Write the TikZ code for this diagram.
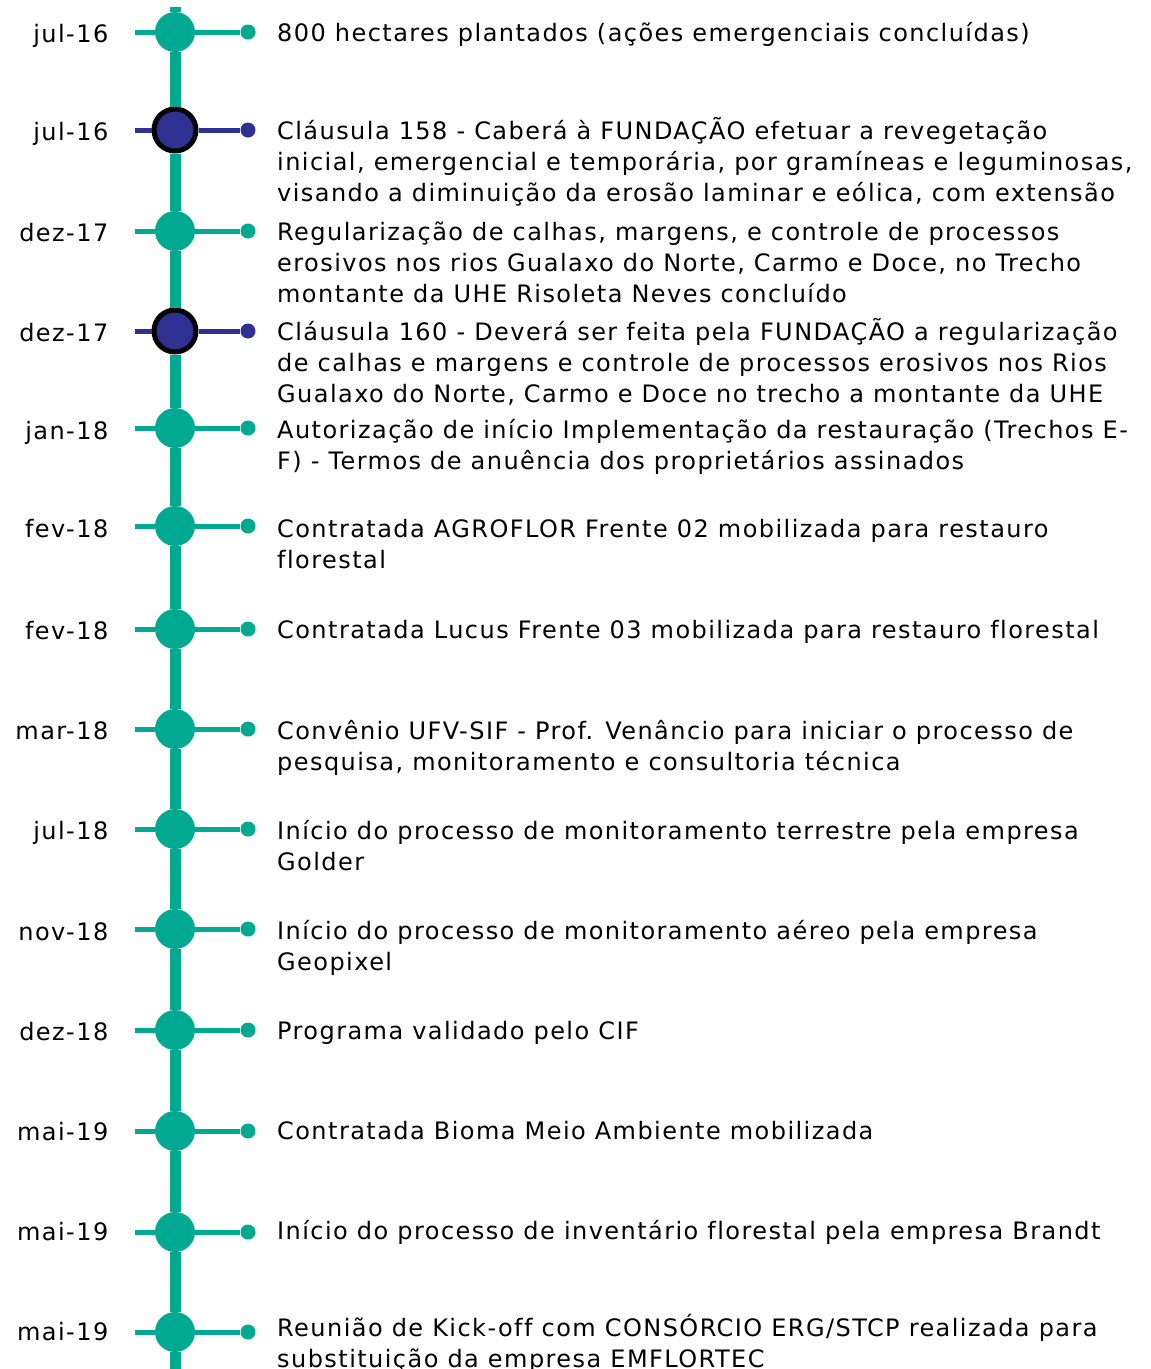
\documentclass[tikz,border=0pt]{standalone}
\usepackage{fontspec}
\setmainfont[LetterSpace=6, Ligatures=NoCommon]{DejaVu Sans}
\usepackage{tikz}
\usetikzlibrary{positioning, calc}
\definecolor{eventteal}{HTML}{00A98F}
\definecolor{clauseblue}{HTML}{2E3192}
\tikzset{
  % Markers on the time line
  milestone/.style={
    circle, inner sep=0pt, minimum size=40pt, fill=eventteal,
  },
  clause/.style={
    circle, inner sep=0pt, minimum size=42pt, fill=clauseblue,
    draw=black, line width=5pt,
  },
  enddot/.style={
    circle, inner sep=0pt, minimum size=15pt, fill=#1,
  },
  enddot/.default={eventteal},
  % Lines
  spine/.style={line width=11pt, draw=eventteal},
  tick/.style={line width=5pt, draw=#1},
  tick/.default={eventteal},
  % Texts (multi-line texts sit on the baseline of their last line)
  datelabel/.style={anchor=base east, inner sep=0pt, font=\fontsize{24}{31}\selectfont},
  desc/.style={anchor=base west, inner sep=0pt, align=left, font=\fontsize{24}{31}\selectfont},
}
\begin{document}
\begin{tikzpicture}[x=1pt, y=-1pt]

  \useasboundingbox[fill=white] (0,0) rectangle (1151,1369);

  % Ends of the time line
  \coordinate (top) at (175,7);
  \coordinate (bottom) at (175,1380);

  % jul-16
  \node[milestone] (e1) at (175,32) {};
  \coordinate (s1) at (135,32);
  \node[enddot] (d1) at (248,32) {};
  \node[datelabel] at (108.5,42) {jul-16};
  \node[desc] at (277,41) {800 hectares plantados (ações emergenciais concluídas)};

  % jul-16 (clausula)
  \node[clause] (e2) at (175,130) {};
  \coordinate (s2) at (135,130);
  \node[enddot=clauseblue] (d2) at (248,130) {};
  \node[datelabel] at (108.5,140) {jul-16};
  \node[desc] at (277,201) {Cláusula 158 - Caberá à FUNDAÇÃO efetuar a revegetação\\
    inicial, emergencial e temporária, por gramíneas e leguminosas,\\
    visando a diminuição da erosão laminar e eólica, com extensão};

  % dez-17
  \node[milestone] (e3) at (175,231) {};
  \coordinate (s3) at (135,231);
  \node[enddot] (d3) at (248,231) {};
  \node[datelabel] at (108.5,241) {dez-17};
  \node[desc] at (277,302) {Regularização de calhas, margens, e controle de processos\\
    erosivos nos rios Gualaxo do Norte, Carmo e Doce, no Trecho\\
    montante da UHE Risoleta Neves concluído};

  % dez-17 (clausula)
  \node[clause] (e4) at (175,331) {};
  \coordinate (s4) at (135,331);
  \node[enddot=clauseblue] (d4) at (248,331) {};
  \node[datelabel] at (108.5,341) {dez-17};
  \node[desc] at (277,402) {Cláusula 160 - Deverá ser feita pela FUNDAÇÃO a regularização\\
    de calhas e margens e controle de processos erosivos nos Rios\\
    Gualaxo do Norte, Carmo e Doce no trecho a montante da UHE};

  % jan-18
  \node[milestone] (e5) at (175,428) {};
  \coordinate (s5) at (135,428);
  \node[enddot] (d5) at (248,428) {};
  \node[datelabel] at (108.5,439) {jan-18};
  \node[desc] at (277,469) {Autorização de início Implementação da restauração (Trechos E-\\
    F) - Termos de anuência dos proprietários assinados};

  % fev-18
  \node[milestone] (e6) at (175,526) {};
  \coordinate (s6) at (135,526);
  \node[enddot] (d6) at (248,526) {};
  \node[datelabel] at (108.5,537) {fev-18};
  \node[desc] at (277,568) {Contratada AGROFLOR Frente 02 mobilizada para restauro\\
    florestal};

  % fev-18
  \node[milestone] (e7) at (175,629) {};
  \coordinate (s7) at (135,629);
  \node[enddot] (d7) at (248,629) {};
  \node[datelabel] at (108.5,639) {fev-18};
  \node[desc] at (277,638) {Contratada Lucus Frente 03 mobilizada para restauro florestal};

  % mar-18
  \node[milestone] (e8) at (175,729) {};
  \coordinate (s8) at (135,729);
  \node[enddot] (d8) at (248,729) {};
  \node[datelabel] at (108.5,739) {mar-18};
  \node[desc] at (277,770) {Convênio UFV-SIF - Prof. Venâncio para iniciar o processo de\\
    pesquisa, monitoramento e consultoria técnica};

  % jul-18
  \node[milestone] (e9) at (175,829) {};
  \coordinate (s9) at (135,829);
  \node[enddot] (d9) at (248,829) {};
  \node[datelabel] at (108.5,839) {jul-18};
  \node[desc] at (277,870) {Início do processo de monitoramento terrestre pela empresa\\
    Golder};

  % nov-18
  \node[milestone] (e10) at (175,929) {};
  \coordinate (s10) at (135,929);
  \node[enddot] (d10) at (248,929) {};
  \node[datelabel] at (108.5,940) {nov-18};
  \node[desc] at (277,970) {Início do processo de monitoramento aéreo pela empresa\\
    Geopixel};

  % dez-18
  \node[milestone] (e11) at (175,1030) {};
  \coordinate (s11) at (135,1030);
  \node[enddot] (d11) at (248,1030) {};
  \node[datelabel] at (108.5,1040) {dez-18};
  \node[desc] at (277,1039) {Programa validado pelo CIF};

  % mai-19
  \node[milestone] (e12) at (175,1131) {};
  \coordinate (s12) at (135,1131);
  \node[enddot] (d12) at (248,1131) {};
  \node[datelabel] at (108.5,1140) {mai-19};
  \node[desc] at (277,1139) {Contratada Bioma Meio Ambiente mobilizada};

  % mai-19
  \node[milestone] (e13) at (175,1232) {};
  \coordinate (s13) at (135,1232);
  \node[enddot] (d13) at (248,1232) {};
  \node[datelabel] at (108.5,1240) {mai-19};
  \node[desc] at (277,1239) {Início do processo de inventário florestal pela empresa Brandt};

  % mai-19
  \node[milestone] (e14) at (175,1332) {};
  \coordinate (s14) at (135,1332);
  \node[enddot] (d14) at (248,1332) {};
  \node[datelabel] at (108.5,1340) {mai-19};
  \node[desc] at (277,1367) {Reunião de Kick-off com CONSÓRCIO ERG/STCP realizada para\\
    substituição da empresa EMFLORTEC};

  % Time line
  \draw[spine] (top) -- (e1) -- (e2) -- (e3) -- (e4) -- (e5) -- (e6) -- (e7)
    -- (e8) -- (e9) -- (e10) -- (e11) -- (e12) -- (e13) -- (e14) -- (bottom);

  % Ticks
  \draw[tick] (s1) -- (e1) -- (d1);
  \draw[tick=clauseblue] (s2) -- (e2) -- (d2);
  \draw[tick] (s3) -- (e3) -- (d3);
  \draw[tick=clauseblue] (s4) -- (e4) -- (d4);
  \draw[tick] (s5) -- (e5) -- (d5);
  \draw[tick] (s6) -- (e6) -- (d6);
  \draw[tick] (s7) -- (e7) -- (d7);
  \draw[tick] (s8) -- (e8) -- (d8);
  \draw[tick] (s9) -- (e9) -- (d9);
  \draw[tick] (s10) -- (e10) -- (d10);
  \draw[tick] (s11) -- (e11) -- (d11);
  \draw[tick] (s12) -- (e12) -- (d12);
  \draw[tick] (s13) -- (e13) -- (d13);
  \draw[tick] (s14) -- (e14) -- (d14);

\end{tikzpicture}
\end{document}
